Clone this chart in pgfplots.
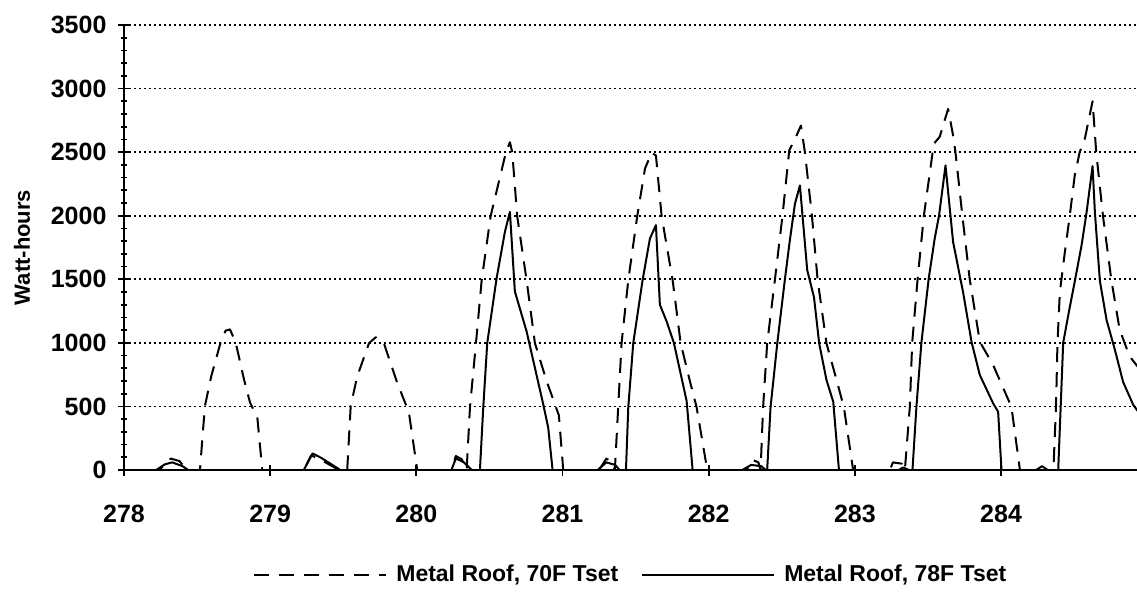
\documentclass[border=0pt]{standalone}
\usepackage{pgfplots}
\pgfplotsset{compat=1.18}
\usepackage{fontspec}
\setmainfont{Liberation Sans}

\begin{document}
\begin{tikzpicture}
\useasboundingbox (-62pt,-63pt) rectangle (506.5pt,235pt);
\begin{axis}[
  scale only axis, width=506.5pt, height=222.5pt,
  xmin=278, xmax=284.93, ymin=0, ymax=3500,
  axis lines*=left,
  axis line style={line width=1pt},
  xtick={278,...,284}, ytick={0,500,...,3500},
  minor y tick num=4,
  tick align=center,
  major tick length=5.5pt, minor tick length=3pt,
  tick style={black, line width=0.9pt},
  ymajorgrids,
  grid style={black, line width=0.9pt, dash pattern=on 0.9pt off 1.6pt},
  every tick label/.append style={font=\bfseries\fontsize{12.5}{14}\selectfont},
  /pgf/number format/assume math mode=true,
  /pgf/number format/1000 sep={},
  xticklabel style={yshift=-11pt},
  yticklabel style={xshift=-2.5pt},
  ylabel={Watt-hours},
  every axis y label/.style={at={(axis description cs:0,0.5)}, xshift=-51pt,
    rotate=90, anchor=center, font=\bfseries\fontsize{11}{13}\selectfont},
  legend columns=2,
  legend style={draw=none, fill=none, at={(0.1273,-0.236)}, anchor=west,
    inner sep=0pt, font=\bfseries\fontsize{11.5}{13}\selectfont,
    /tikz/every odd column/.append style={column sep=2.5pt},
    /tikz/every even column/.append style={column sep=9.5pt}},
  legend image code/.code={\draw[#1] (0pt,0pt) -- (66pt,0pt);},
]
% Metal Roof, 70F Tset (dashed)
\addplot[black, line width=1pt, dash pattern=on 7.5pt off 5pt, line join=round] coordinates {
(278.00,0) (278.24,0) (278.32,90) (278.38,70) (278.43,0)
(278.520,0) (278.536,246) (278.554,505) (278.597,738) (278.661,1003) (278.695,1096)
(278.725,1106) (278.764,1003) (278.821,712) (278.862,531) (278.912,415) (278.946,0)
(279.23,0) (279.28,115) (279.34,85) (279.47,0)
(279.527,0) (279.551,505) (279.596,738) (279.676,997) (279.722,1044) (279.778,997)
(279.869,686) (279.949,453) (280.006,0)
(280.24,0) (280.27,110) (280.31,85) (280.344,0)
(280.367,496) (280.408,999) (280.447,1495) (280.508,1996) (280.613,2500) (280.640,2578)
(280.656,2500) (280.690,1996) (280.754,1495) (280.811,999) (280.891,700) (280.975,430) (281.005,0)
(281.25,0) (281.30,90) (281.34,60) (281.358,0)
(281.381,496) (281.404,999) (281.450,1495) (281.511,1996) (281.564,2370) (281.609,2495)
(281.639,2474) (281.678,1996) (281.753,1495) (281.808,999) (281.871,700) (281.917,496) (281.990,0)
(282.26,0) (282.30,80) (282.34,60) (282.355,0)
(282.372,492) (282.400,995) (282.453,1497) (282.505,2003) (282.551,2513) (282.601,2631)
(282.631,2709) (282.658,2500) (282.706,2003) (282.745,1497) (282.806,995) (282.875,707)
(282.925,492) (282.988,0)
(283.24,0) (283.26,60) (283.32,50) (283.342,0)
(283.376,500) (283.392,1000) (283.429,1500) (283.472,2000) (283.540,2566) (283.580,2620)
(283.638,2840) (283.672,2630) (283.688,2500) (283.735,2003) (283.785,1505) (283.855,1008)
(283.946,825) (284.071,497) (284.129,0)
(284.358,0) (284.376,500) (284.386,1000) (284.402,1395) (284.436,1710) (284.470,2000)
(284.504,2316) (284.538,2500) (284.573,2605) (284.626,2900) (284.651,2500) (284.697,2000)
(284.754,1500) (284.811,1105) (284.879,895) (284.93,820) (284.95,790)
};
\addlegendentry{Metal Roof, 70F Tset}
% Metal Roof, 78F Tset (solid)
\addplot[black, line width=1pt, line join=round] coordinates {
(278.00,0) (278.22,0) (278.28,45) (278.33,60) (278.40,30) (278.44,0)
(279.23,0) (279.29,130) (279.35,95) (279.48,0)
(280.24,0) (280.27,90) (280.32,65) (280.38,0)
(280.435,0) (280.458,496) (280.485,999) (280.549,1508) (280.606,1874) (280.640,2030)
(280.674,1404) (280.754,1091) (280.811,804) (280.868,517) (280.902,334) (280.932,0)
(281.24,0) (281.30,60) (281.36,40) (281.39,0)
(281.434,0) (281.450,496) (281.484,999) (281.548,1495) (281.598,1821) (281.639,1926)
(281.666,1300) (281.712,1169) (281.762,999) (281.849,543) (281.890,0)
(282.23,0) (282.29,40) (282.36,30) (282.39,0)
(282.400,0) (282.423,492) (282.469,995) (282.521,1497) (282.555,1806) (282.590,2094)
(282.624,2238) (282.674,1571) (282.720,1361) (282.756,995) (282.806,707) (282.852,537) (282.891,0)
(283.30,0) (283.33,20) (283.37,0)
(283.394,0) (283.421,497) (283.455,1000) (283.505,1505) (283.546,1820) (283.576,2003)
(283.620,2395) (283.672,1793) (283.740,1400) (283.798,1008) (283.855,746) (283.946,524)
(283.980,458) (284.003,0)
(284.24,0) (284.28,30) (284.32,0)
(284.391,0) (284.425,1000) (284.466,1256) (284.505,1487) (284.551,1769) (284.585,2026)
(284.626,2390) (284.642,2026) (284.676,1487) (284.722,1179) (284.778,949) (284.835,692)
(284.904,513) (284.95,440)
};
\addlegendentry{Metal Roof, 78F Tset}
\end{axis}
\end{tikzpicture}
\end{document}
